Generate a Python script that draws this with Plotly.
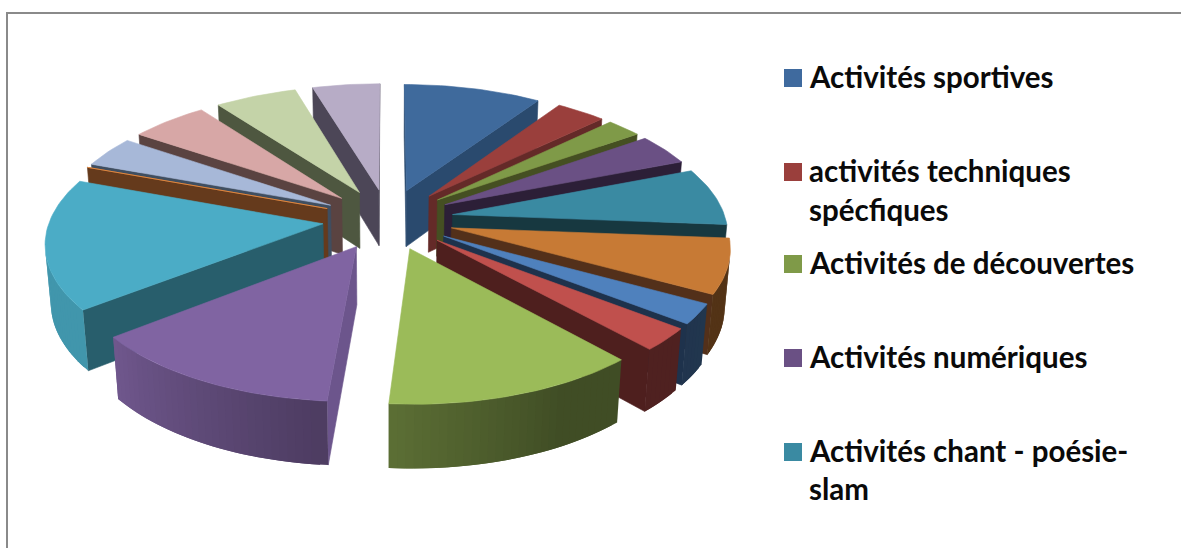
import numpy as np
import plotly.graph_objects as go

# Slice shares in percent, clockwise from 12 o'clock
values = [9.4, 3.4, 2.4, 3.9, 7.2, 6.8, 2.5, 2.8, 12.9, 13.2, 16.3, 0.0, 3.9, 5.3, 5.6, 4.6]
top_colors = ["#3F6A9C", "#9A3F3C", "#7F9A48", "#6A5084", "#3A8AA2", "#C77A35", "#4F81BD", "#C0504D",
              "#9BBB59", "#8064A2", "#4BACC6", "#F79646", "#A7B8D8", "#D7A7A6", "#C4D3A8", "#B7ACC6"]
wall_colors = ["#2A4A6E", "#642A28", "#454F22", "#2C1F37", "#173840", "#53301A", "#1E324C", "#4E1F1E",
               "#5E6D37", "#6C558C", "#285E6C", "#653A1C", "#3F4E60", "#5A4341", "#4E5740", "#4C4657"]

legend_labels = ["Activités sportives", "activités techniques", "Activités de découvertes",
                 "Activités numériques", "Activités chant - poésie-"]
legend_extra = ["spécfiques", "slam"]
legend_colors = ["#3F6A9E", "#9A3F3C", "#7F9A48", "#6A5084", "#3A8AA2"]

# Camera
ELEV = np.radians(27.7)
DIST = 6.8
FOCAL = 1856.0
CX, CY = 388.0, 219.0
EXPLODE = 0.24
HEIGHT = 0.24
S, C = np.sin(ELEV), np.cos(ELEV)


def project(x, y, z):
    x, y, z = np.asarray(x, float), np.asarray(y, float), np.asarray(z, float)
    depth = DIST + y * C - z * S
    return CX + FOCAL * x / depth, CY - FOCAL * (y * S + z * C) / depth


def shade(theta_deg):
    return np.interp(theta_deg % 360, [0, 90, 150, 184, 230, 290, 360], [.42, .42, .41, .6, .87, .87, .6])


def rgb(hexcolor, f=1.0):
    v = [int(hexcolor[i:i + 2], 16) for i in (1, 3, 5)]
    return "rgb(%d,%d,%d)" % tuple(min(255, round(c * f)) for c in v)


def visible(nx, ny, px, py):
    # outward wall normal against the direction to the camera
    return nx * (0 - px) + ny * (-DIST * C - py) > 0


fig = go.Figure()


def poly(x3, y3, z3, color, stroke=0.6):
    sx, sy = project(x3, y3, z3)
    fig.add_trace(go.Scatter(x=np.append(sx, sx[0]), y=np.append(sy, sy[0]), mode="lines", fill="toself",
                             fillcolor=color, line=dict(color=color, width=stroke),
                             hoverinfo="skip", showlegend=False))


total = sum(values)
edges = np.concatenate([[0], np.cumsum(values)]) / total * 2 * np.pi
slices = [(edges[i], edges[i + 1], i) for i in range(len(values))]
slices.sort(key=lambda t: -np.cos((t[0] + t[1]) / 2))

for a, b, i in slices:
    mid = (a + b) / 2
    ox, oy = EXPLODE * np.sin(mid), EXPLODE * np.cos(mid)
    n = max(2, int((b - a) / np.radians(1.5)) + 2)
    th = np.linspace(a, b, n)
    ax, ay = ox + np.sin(th), oy + np.cos(th)

    # radial walls
    for ang, sign in ((a, -1), (b, 1)):
        nx, ny = np.sin(ang + sign * np.pi / 2), np.cos(ang + sign * np.pi / 2)
        ex, ey = ox + np.sin(ang), oy + np.cos(ang)
        if visible(nx, ny, (ox + ex) / 2, (oy + ey) / 2):
            poly([ox, ex, ex, ox], [oy, ey, ey, oy], [0, 0, -HEIGHT, -HEIGHT], wall_colors[i])

    # outer wall: overlapping bands, last to first so no seams show
    for j in range(n - 2, -1, -1):
        tm = (th[j] + th[j + 1]) / 2
        if visible(np.sin(tm), np.cos(tm), ox + np.sin(tm), oy + np.cos(tm)):
            k = min(j + 2, n - 1)
            xs = np.concatenate([ax[j:k + 1], ax[j:k + 1][::-1]])
            ys = np.concatenate([ay[j:k + 1], ay[j:k + 1][::-1]])
            zs = np.concatenate([np.zeros(k + 1 - j), np.full(k + 1 - j, -HEIGHT)])
            poly(xs, ys, zs, rgb(top_colors[i], shade(np.degrees(tm))), stroke=0)

    # top face
    poly(np.append(ox, ax), np.append(oy, ay), np.zeros(n + 1), top_colors[i])

# Legend
sq_y = [78, 172, 264, 358, 452]
fig.add_trace(go.Scatter(x=[793] * 5, y=sq_y, mode="markers", hoverinfo="skip", showlegend=False,
                         marker=dict(symbol="square", size=18, color=legend_colors, line=dict(width=0))))
text_rows = [(legend_labels[k], sq_y[k]) for k in range(5)] + [(legend_extra[0], 211), (legend_extra[1], 490)]
for txt, y in text_rows:
    fig.add_annotation(x=807, y=y - 2, text="<b>%s</b>" % txt, showarrow=False, xanchor="left", yanchor="middle",
                       font=dict(family="Lato", size=29.5, color="#0A0A0A"))

fig.update_layout(
    width=1181, height=548, margin=dict(l=0, r=0, t=0, b=0), autosize=False,
    paper_bgcolor="white", plot_bgcolor="white", showlegend=False,
    xaxis=dict(range=[0, 1181], visible=False, fixedrange=True),
    yaxis=dict(range=[548, 0], visible=False, fixedrange=True),
    shapes=[
        dict(type="line", xref="x", yref="y", x0=7, x1=7, y0=13, y1=548, line=dict(color="#8A8A8A", width=2)),
        dict(type="line", xref="x", yref="y", x0=6, x1=1181, y0=13, y1=13, line=dict(color="#8A8A8A", width=2)),
    ],
)
fig.write_html("out.html", config=dict(displayModeBar=False),
               post_script="document.body.style.margin='0';document.documentElement.style.overflow='hidden';")
